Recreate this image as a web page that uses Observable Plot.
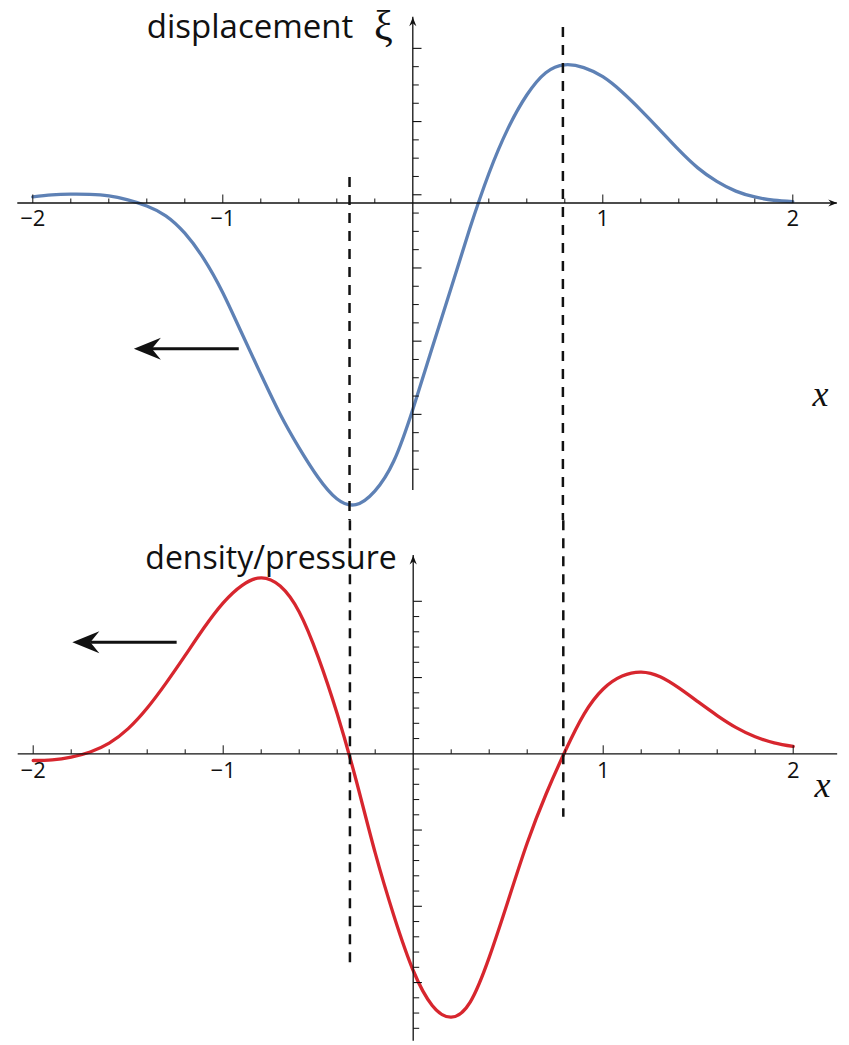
<!DOCTYPE html>
<html><head><meta charset="utf-8">
<script src="https://cdn.jsdelivr.net/npm/d3@7"></script>
<script src="https://cdn.jsdelivr.net/npm/@observablehq/plot@0.6"></script>
<style>html,body{margin:0;padding:0;background:#fff;overflow:hidden} svg{display:block}</style>
</head><body><div id="top"></div><div id="bottom"></div>
<script>
// ---- data ----
const dispX = [-2,-1.9,-1.8,-1.7,-1.6,-1.5,-1.4,-1.3,-1.2,-1.1,-1.0,-0.9,-0.8,-0.7,-0.6,-0.5,-0.4,-0.3,-0.2,-0.1,0,0.1,0.2,0.3,0.4,0.5,0.6,0.7,0.8,0.9,1.0,1.1,1.2,1.3,1.4,1.5,1.6,1.7,1.8,1.9,2.0];
const displacement = [0.033,0.044,0.048,0.047,0.039,0.017,-0.016,-0.070,-0.165,-0.305,-0.490,-0.712,-0.935,-1.150,-1.335,-1.497,-1.616,-1.648,-1.574,-1.410,-1.128,-0.798,-0.470,-0.140,0.160,0.405,0.590,0.712,0.755,0.740,0.690,0.608,0.508,0.400,0.290,0.192,0.118,0.065,0.033,0.015,0.008];
const densX = [-2,-1.9,-1.8,-1.7,-1.6,-1.5,-1.4,-1.3,-1.2,-1.1,-1.0,-0.9,-0.8,-0.7,-0.6,-0.5,-0.4,-0.3,-0.2,-0.1,0,0.1,0.2,0.3,0.4,0.5,0.6,0.7,0.8,0.9,1.0,1.1,1.2,1.3,1.4,1.5,1.6,1.7,1.8,1.9,2.0];
const density = [-0.044,-0.040,-0.022,0.012,0.070,0.165,0.300,0.465,0.645,0.828,0.990,1.105,1.154,1.100,0.930,0.634,0.262,-0.175,-0.650,-1.068,-1.421,-1.650,-1.727,-1.628,-1.335,-0.962,-0.585,-0.262,0.018,0.262,0.425,0.510,0.536,0.505,0.430,0.340,0.251,0.172,0.112,0.072,0.048];
const dashedX = [-0.333, 0.79];
const xMajorTicks = [-2,-1,1,2];
const xTickLabels = ["−2","−1","1","2"];
const xMinorTicks = [-1.8,-1.6,-1.4,-1.2,-0.8,-0.6,-0.4,-0.2,0.2,0.4,0.6,0.8,1.2,1.4,1.6,1.8];
const topYMajor = [0.845,0.445,0.045,-0.355,-0.755,-1.155];
const topYMinor = [0.745,0.645,0.545,0.345,0.245,0.145,-0.055,-0.155,-0.255,-0.455,-0.555,-0.655,-0.855,-0.955,-1.055,-1.255,-1.355,-1.455];
const botYMajor = [1.0,0.5,-0.5,-1.0,-1.5];
const botYMinor = [0.9,0.8,0.7,0.6,0.4,0.3,0.2,0.1,-0.1,-0.2,-0.3,-0.4,-0.6,-0.7,-0.8,-0.9,-1.1,-1.2,-1.3,-1.4,-1.6,-1.7,-1.8];
const topLabel = "displacement";
const topSymbol = "ξ";
const bottomLabel = "density/pressure";
const axisLabel = "x";

// ---- symbols ----
const tickUp = len => ({draw(c){c.moveTo(0,0); c.lineTo(0,-len);}});
const tickRight = len => ({draw(c){c.moveTo(0,0); c.lineTo(len,0);}});
const head = (L, W, N) => ({draw(c){c.moveTo(0,0); c.lineTo(L,-W); c.lineTo(N,0); c.lineTo(L,W); c.closePath();}});
const bigHead = head(27, 11, 18);
const smallHead = head(9, 3.6, 6);

const blue = "#5E81B5", red = "#D7262E";
const W = 849;

function axesMarks(yAxisTop, yAxisBottom, yMaj, yMin, xArrow, labelDy) {
  return [
    Plot.ruleY([0], {x1: -2.079, x2: 2.234, stroke: "#111", strokeWidth: 1.3}),
    Plot.ruleX([0], {y1: yAxisTop, y2: yAxisBottom, stroke: "#111", strokeWidth: 1.3}),
    Plot.dot(xMajorTicks, {x: d => d, y: 0, symbol: tickUp(8.5), stroke: "#111", strokeWidth: 1, fill: "none"}),
    Plot.dot(xMinorTicks, {x: d => d, y: 0, symbol: tickUp(4.5), stroke: "#111", strokeWidth: 1, fill: "none"}),
    Plot.dot(yMaj, {x: 0, y: d => d, symbol: tickRight(8.7), stroke: "#111", strokeWidth: 1.1, fill: "none"}),
    Plot.dot(yMin, {x: 0, y: d => d, symbol: tickRight(6), stroke: "#111", strokeWidth: 1, fill: "none"}),
    Plot.dot([yAxisTop], {x: 0, y: d => d, symbol: smallHead, rotate: 90, fill: "#111", stroke: "none"}),
    ...(xArrow ? [Plot.dot([2.234], {x: d => d, y: 0, symbol: smallHead, rotate: 180, fill: "#111", stroke: "none"})] : []),
    Plot.text(xMajorTicks, {x: d => d, y: 0, text: (d, i) => xTickLabels[i], dy: labelDy, lineAnchor: "bottom", textAnchor: "middle", fontSize: 22, fontFamily: "Open Sans", fill: "#111"})
  ];
}

// ---- top panel ----
const topPlot = Plot.plot({
  width: W, height: 520,
  x: {domain: [-2, 2], range: [32.3, 792.3], axis: null},
  y: {domain: [-2, 1], range: [202.5 + 2 * 183, 202.5 - 183], axis: null},
  marks: [
    Plot.line(dispX.map((x, i) => ({x, y: displacement[i]})), {x: "x", y: "y", stroke: blue, strokeWidth: 3.3, curve: "natural"}),
    ...axesMarks(1.015, -1.571, topYMajor, topYMinor, true, 23),
    Plot.ruleX(dashedX.map((x, i) => ({x, y1: [0.139, 0.959][i]})), {x: "x", y1: "y1", y2: -2, stroke: "#111", strokeWidth: 2.5, strokeDasharray: "10,8"}),
    Plot.link([{x1: -0.916, x2: -1.374, y: -0.796}], {x1: "x1", x2: "x2", y1: "y", y2: "y", stroke: "#111", strokeWidth: 3}),
    Plot.dot([{x: -1.468, y: -0.796}], {x: "x", y: "y", symbol: bigHead, fill: "#111", stroke: "none"}),
    Plot.text([topLabel], {x: -1.4, y: 0.903, text: d => d, textAnchor: "start", lineAnchor: "bottom", fontSize: 33, fontFamily: "Open Sans", fill: "#111"}),
    Plot.text([topSymbol], {x: -0.155, y: 0.893, text: d => d, textAnchor: "middle", lineAnchor: "bottom", fontSize: 42, fontFamily: "Liberation Serif", fill: "#111"}),
    Plot.text([axisLabel], {x: 2.146, y: -1.107, text: d => d, textAnchor: "middle", lineAnchor: "bottom", fontSize: 36, fontStyle: "italic", fontFamily: "Liberation Serif", fill: "#111"})
  ]
});

// ---- bottom panel ----
const botPlot = Plot.plot({
  width: W, height: 525,
  x: {domain: [-2, 2], range: [32.7, 792.7], axis: null},
  y: {domain: [-2, 2], range: [233.3 + 2 * 152.5, 233.3 - 2 * 152.5], axis: null},
  marks: [
    Plot.line(densX.map((x, i) => ({x, y: density[i]})), {x: "x", y: "y", stroke: red, strokeWidth: 3.3, curve: "natural"}),
    ...axesMarks(1.30, -1.885, botYMajor, botYMinor, false, 24),
    Plot.ruleX(dashedX.map((x, i) => ({x, y2: [-1.399, -0.416][i]})), {x: "x", y1: 2, y2: "y2", stroke: "#111", strokeWidth: 2.5, strokeDasharray: "10,8"}),
    Plot.link([{x1: -1.245, x2: -1.70, y: 0.732}], {x1: "x1", x2: "x2", y1: "y", y2: "y", stroke: "#111", strokeWidth: 3}),
    Plot.dot([{x: -1.794, y: 0.732}], {x: "x", y: "y", symbol: bigHead, fill: "#111", stroke: "none"}),
    Plot.text([bottomLabel], {x: -1.41, y: 1.213, text: d => d, textAnchor: "start", lineAnchor: "bottom", fontSize: 32, fontFamily: "Open Sans", fill: "#111"}),
    Plot.text([axisLabel], {x: 2.154, y: -0.28, text: d => d, textAnchor: "middle", lineAnchor: "bottom", fontSize: 36, fontStyle: "italic", fontFamily: "Liberation Serif", fill: "#111"})
  ]
});

document.getElementById("top").appendChild(topPlot);
document.getElementById("bottom").appendChild(botPlot);
</script>
</body></html>
